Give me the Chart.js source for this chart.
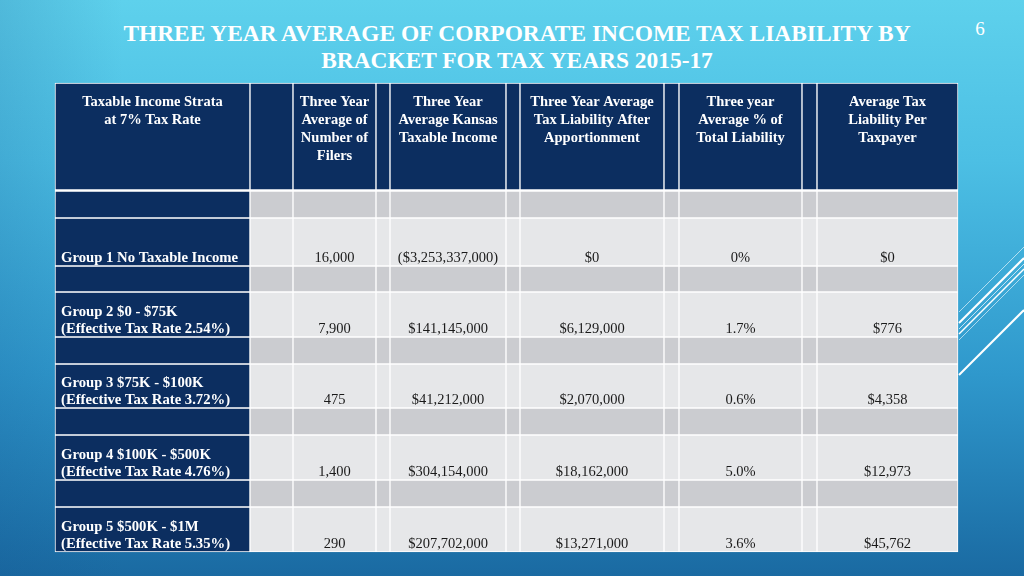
<!DOCTYPE html>
<html>
<head>
<meta charset="utf-8">
<script src="https://cdn.jsdelivr.net/npm/chart.js@4.4.1/dist/chart.umd.min.js"></script>
<style>
  html, body { margin:0; padding:0; }
  body {
    width:1024px; height:576px; overflow:hidden; position:relative;
    background:
      linear-gradient(to right, rgba(18,80,140,0.18) 0%, rgba(18,80,140,0) 12%),
      linear-gradient(to bottom, #5ed1ec 0%, #4cbfe4 28%, #2f98cc 65%, #1a6aa2 100%);
    font-family:"Liberation Serif", "Times New Roman", serif;
  }
  #title {
    position:absolute; left:10px; top:20px; width:1014px;
    text-align:center; color:#fff; font-weight:bold; font-size:23.4px; line-height:27px;
  }
  #page { position:absolute; left:970px; top:18px; width:20px; text-align:center; color:#fff; font-size:19px; }
  #deco { position:absolute; left:0; top:0; }
  #tbl { position:absolute; left:0; top:0; }
</style>
</head>
<body>
<svg id="deco" width="1024" height="576">
  <g stroke="#fff" fill="none">
    <line x1="959" y1="312" x2="1024" y2="247" stroke-width="1" stroke-opacity="0.6"/>
    <line x1="959" y1="323" x2="1024" y2="258" stroke-width="2"/>
    <line x1="959" y1="329" x2="1024" y2="264" stroke-width="1" stroke-opacity="0.7"/>
    <line x1="959" y1="334" x2="1024" y2="269" stroke-width="1.5"/>
    <line x1="959" y1="340" x2="1024" y2="275" stroke-width="1" stroke-opacity="0.6"/>
    <line x1="959" y1="375" x2="1024" y2="310" stroke-width="2"/>
  </g>
</svg>
<div id="title">THREE YEAR AVERAGE OF CORPORATE INCOME TAX LIABILITY BY<br>BRACKET FOR TAX YEARS 2015-17</div>
<div id="page">6</div>
<canvas id="tbl" width="1024" height="576"></canvas>
<script>
// table contents
const headers = [
  ["Taxable Income Strata", "at 7% Tax Rate"],
  [],
  ["Three Year", "Average of", "Number of", "Filers"],
  [],
  ["Three Year", "Average Kansas", "Taxable Income"],
  [],
  ["Three Year Average", "Tax Liability After", "Apportionment"],
  [],
  ["Three year", "Average % of", "Total Liability"],
  [],
  ["Average Tax", "Liability Per", "Taxpayer"]
];
const groups = [
  ["Group 1 No Taxable Income"],
  ["Group 2 $0 - $75K", "(Effective Tax Rate 2.54%)"],
  ["Group 3 $75K - $100K", "(Effective Tax Rate 3.72%)"],
  ["Group 4 $100K - $500K", "(Effective Tax Rate 4.76%)"],
  ["Group 5 $500K - $1M", "(Effective Tax Rate 5.35%)"]
];
const filers = [16000, 7900, 475, 1400, 290];
const taxableIncome = [-3253337000, 141145000, 41212000, 304154000, 207702000];
const taxLiability = [0, 6129000, 2070000, 18162000, 13271000];
const pctOfTotal = [0, 1.7, 0.6, 5.0, 3.6];
const perTaxpayer = [0, 776, 4358, 12973, 45762];

// layout (pixel units of the hidden linear scales)
const colEdges = [55, 250, 293, 376, 390, 506, 520, 664, 679, 802, 817, 958];
const rowEdges = [83, 191, 218, 266, 292, 337, 364, 408, 435, 480, 507, 552];
const rowKinds = ["header","spacer","data","spacer","data","spacer","data","spacer","data","spacer","data"];

const NAVY = "#0c2e60", GREY = "#cbccd0", LIGHT = "#e6e7e9";

const fmtInt = v => v.toLocaleString("en-US");
const fmtMoney = v => v < 0 ? "($" + fmtInt(-v) + ")" : "$" + fmtInt(v);
const fmtPct = v => v === 0 ? "0%" : v.toFixed(1) + "%";

function cellText(kind, dataRow, col){
  if(kind === "header") return headers[col];
  if(kind !== "data") return [];
  switch(col){
    case 0: return groups[dataRow];
    case 2: return [fmtInt(filers[dataRow])];
    case 4: return [fmtMoney(taxableIncome[dataRow])];
    case 6: return [fmtMoney(taxLiability[dataRow])];
    case 8: return [fmtPct(pctOfTotal[dataRow])];
    case 10: return [fmtMoney(perTaxpayer[dataRow])];
  }
  return [];
}

let dataCount = 0;
const datasets = rowKinds.map((kind, r) => {
  const top = rowEdges[r], bottom = rowEdges[r+1];
  const dataRow = kind === "data" ? dataCount++ : -1;
  const cells = [], colors = [], texts = [];
  for(let c = 0; c < colEdges.length - 1; c++){
    cells.push({x:[colEdges[c], colEdges[c+1]], y:(top + bottom) / 2});
    colors.push(kind === "header" || c === 0 ? NAVY : (kind === "spacer" ? GREY : LIGHT));
    texts.push(cellText(kind, dataRow, c));
  }
  return {
    data: cells,
    kind: kind,
    texts: texts,
    stack: "table",
    barThickness: bottom - top,
    backgroundColor: colors,
    borderColor: "#ffffff",
    borderWidth: kind === "header" ? {top:1, left:1, right:1, bottom:2} : 1,
    borderSkipped: false
  };
});

const cellTextPlugin = {
  id: "cellText",
  afterDatasetsDraw(chart){
    const ctx = chart.ctx;
    ctx.save();
    chart.data.datasets.forEach((ds, di) => {
      const meta = chart.getDatasetMeta(di);
      meta.data.forEach((el, j) => {
        const lines = ds.texts[j];
        if(!lines || !lines.length) return;
        const p = el.getProps(["x","base","y","height"], true);
        const left = Math.min(p.x, p.base), right = Math.max(p.x, p.base);
        const top = p.y - p.height / 2, bottom = p.y + p.height / 2;
        ctx.textBaseline = "middle";
        if(ds.kind === "header"){
          ctx.font = "bold 14.5px 'Liberation Serif'";
          ctx.fillStyle = "#ffffff";
          ctx.textAlign = "center";
          lines.forEach((t, k) => ctx.fillText(t, (left + right) / 2, top + 19.5 + k * 18));
        } else if(j === 0){
          ctx.font = "bold 14.7px 'Liberation Serif'";
          ctx.fillStyle = "#ffffff";
          ctx.textAlign = "left";
          const n = lines.length;
          lines.forEach((t, k) => ctx.fillText(t, left + 6, bottom - 8 - (n - 1 - k) * 17));
        } else {
          ctx.font = "14.5px 'Liberation Serif'";
          ctx.fillStyle = "#1a1a1a";
          ctx.textAlign = "center";
          ctx.fillText(lines[0], (left + right) / 2, bottom - 8);
        }
      });
    });
    ctx.restore();
  }
};

new Chart(document.getElementById("tbl").getContext("2d"), {
  type: "bar",
  data: { datasets: datasets },
  options: {
    indexAxis: "y",
    responsive: false,
    animation: false,
    layout: { padding: 0 },
    scales: {
      x: { type: "linear", min: 0, max: 1024, display: false, stacked: false, offset: false },
      y: { type: "linear", min: 0, max: 576, reverse: true, display: false, offset: false }
    },
    plugins: { legend: { display: false }, tooltip: { enabled: false } }
  },
  plugins: [cellTextPlugin]
});
</script>
</body>
</html>
